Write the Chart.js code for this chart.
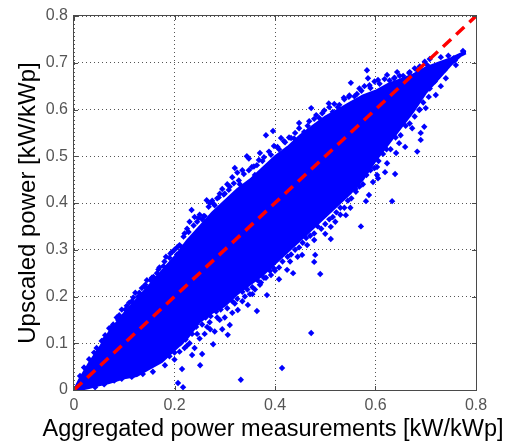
<!DOCTYPE html>
<html>
<head>
<meta charset="utf-8">
<script src="https://cdn.jsdelivr.net/npm/chart.js@4"></script>
<style>
  html, body { margin: 0; background: #fff; }
</style>
</head>
<body>
<canvas id="scatterChart" width="508" height="443"></canvas>
<script>
// ticks
const xTicks = [0, 0.2, 0.4, 0.6, 0.8];
const yTicks = [0, 0.1, 0.2, 0.3, 0.4, 0.5, 0.6, 0.7, 0.8];

// solid part of the cloud, edges
const coreX = [0, .01, .02, .03, .05, .07, .10, .125, .15, .175, .20, .225, .25, .275, .30, .325, .35, .375, .40, .425, .45, .475, .50, .525, .55, .575, .60, .625, .65, .675, .70, .725, .75, .77, .78];
const coreUpper = [0, .022, .04, .058, .09, .125, .165, .195, .225, .255, .285, .32, .35, .38, .405, .43, .45, .475, .50, .52, .545, .565, .585, .60, .615, .63, .64, .655, .665, .675, .69, .70, .71, .72, .725];
const coreLower = [0, 0, .002, .004, .01, .015, .025, .03, .045, .06, .085, .11, .145, .165, .18, .205, .225, .245, .27, .295, .32, .345, .37, .395, .42, .45, .49, .525, .56, .595, .635, .665, .695, .715, .72];

// separate points around the solid part
const upperX = [.012, .02, .03, .04, .045, .055, .062, .07, .078, .085, .09, .095, .105, .11, .118, .122, .13, .135, .14, .145,
  .152, .158, .165, .17, .178, .183, .19, .195, .2, .205, .21, .215, .22, .225, .23, .234, .24, .245, .25, .255,
  .26, .264, .27, .275, .28, .285, .29, .295, .30, .305, .31, .315, .32, .325, .33, .335, .344, .348, .354, .36,
  .364, .37, .375, .382, .392, .396, .405, .412, .42, .432, .44, .448, .458, .465, .472, .482, .494, .507, .515, .525,
  .537, .547, .551, .563, .572, .583, .585, .59, .605, .623, .637, .643, .655, .667, .683, .703, .73, .745, .756, .774];
const upperY = [.03, .048, .066, .08, .09, .105, .117, .132, .14, .155, .16, .172, .18, .187, .198, .208, .208, .218, .222, .235,
  .235, .242, .25, .262, .265, .285, .283, .295, .30, .29, .31, .305, .335, .345, .36, .385, .37, .36, .375, .365,
  .372, .406, .40, .405, .395, .41, .42, .43, .42, .44, .435, .455, .475, .465, .44, .47, .50, .495, .477, .46,
  .481, .507, .49, .545, .503, .554, .52, .539, .53, .539, .55, .571, .541, .565, .603, .588, .592, .613, .595, .605,
  .625, .627, .657, .633, .64, .684, .667, .646, .663, .674, .667, .68, .672, .678, .684, .695, .712, .715, .71, .725];

const lowerX = [.042, .06, .08, .095, .115, .137, .157, .177, .181, .19, .2, .207, .21, .215, .217, .22, .225, .23, .235, .24,
  .245, .25, .251, .255, .26, .265, .27, .271, .277, .28, .285, .29, .295, .30, .306, .31, .315, .32, .326, .332,
  .335, .34, .346, .35, .355, .36, .364, .37, .378, .384, .392, .40, .408, .414, .424, .424, .43, .436, .445, .454,
  .464, .472, .478, .48, .478, .49, .50, .511, .511, .52, .53, .541, .55, .561, .571, .581, .587, .595, .603, .603,
  .605, .619, .623, .633, .639, .641, .647, .659, .673, .683, .69, .69, .697, .687, .70, .706, .72, .73, .74, .76];
const lowerY = [.006, .012, .02, .024, .028, .034, .039, .07, .053, .072, .065, .015, .082, .045, .006, .09, .095, .10, .075, .09,
  .12, .11, .053, .077, .12, .135, .145, .13, .098, .125, .155, .15, .13, .155, .118, .139, .165, .185, .171, .022,
  .19, .20, .182, .205, .205, .215, .169, .225, .24, .203, .246, .255, .237, .047, .257, .30, .275, .25, .285, .289,
  .31, .122, .321, .289, .274, .248, .334, .323, .349, .36, .375, .374, .39, .424, .35, .404, .417, .445, .477, .46,
  .453, .466, .485, .404, .462, .507, .528, .52, .56, .51, .55, .535, .563, .599, .603, .627, .631, .65, .667, .695];

// rough fringe hugging both edges of the solid part
const fringeX = [.06, .075, .088, .102, .115, .128, .142, .155, .168, .18, .192, .205, .218, .228, .238, .248, .258, .268, .278, .288,
  .298, .308, .318, .328, .338, .348, .358, .368, .378, .388, .398, .408, .418, .428, .438, .448, .458, .468, .478, .488,
  .498, .508, .518, .528, .538, .548, .558, .568, .578, .588, .598, .608, .618, .628, .638, .648, .658, .668, .678, .688,
  .698, .708, .12, .135, .15, .165, .175, .19, .2, .212, .222, .235, .243, .255, .262, .272, .283, .292, .305, .315,
  .325, .335, .345, .355, .365, .372, .382, .39, .398, .408, .415, .425, .432, .44, .448, .455, .462, .47, .478, .485,
  .492, .50, .508, .515, .522, .53, .538, .545, .552, .56, .568, .575, .582, .59, .598, .606, .615, .622, .63, .64,
  .65, .66, .668, .678, .688, .695, .708, .718, .728, .738, .748, .758];
const fringeY = [.108, .135, .15, .172, .19, .2, .225, .24, .258, .275, .292, .305, .328, .338, .352, .368, .372, .392, .398, .412,
  .418, .428, .442, .448, .462, .47, .478, .492, .498, .51, .522, .515, .532, .54, .538, .56, .552, .575, .58, .582,
  .598, .605, .612, .61, .622, .63, .628, .645, .65, .652, .66, .655, .665, .662, .668, .672, .662, .68, .688, .692,
  .702, .708, .04, .05, .06, .07, .082, .095, .08, .10, .108, .12, .135, .14, .155, .158, .168, .172, .175, .19,
  .195, .21, .215, .22, .235, .23, .24, .255, .26, .262, .275, .285, .29, .30, .305, .315, .325, .33, .335, .35,
  .345, .355, .365, .37, .38, .39, .39, .405, .41, .43, .435, .44, .46, .47, .475, .49, .505, .515, .515, .54,
  .545, .565, .57, .585, .60, .615, .645, .66, .675, .685, .70, .705];

const lineEnds = [0, 0.8];

const frame = {
    id: 'frame',
    afterDraw(chart) {
        const c = chart.ctx, a = chart.chartArea;
        c.save();
        c.strokeStyle = '#4a4a4a';
        c.lineWidth = 1;
        c.strokeRect(a.left - 0.5, a.top - 0.5, a.width + 1, a.height + 1);
        chart.scales.x.ticks.forEach(t => {
            const p = Math.round(chart.scales.x.getPixelForValue(t.value)) + 0.5;
            c.beginPath();
            c.moveTo(p, a.bottom); c.lineTo(p, a.bottom - 4);
            c.moveTo(p, a.top); c.lineTo(p, a.top + 4);
            c.stroke();
        });
        chart.scales.y.ticks.forEach(t => {
            const p = Math.round(chart.scales.y.getPixelForValue(t.value)) + 0.5;
            c.beginPath();
            c.moveTo(a.left, p); c.lineTo(a.left + 4, p);
            c.moveTo(a.right, p); c.lineTo(a.right - 4, p);
            c.stroke();
        });
        // the scale title gets squeezed to the axis width, this one is wider than the axis
        c.fillStyle = '#000';
        c.font = '23.5px "Liberation Sans"';
        c.textAlign = 'center';
        c.textBaseline = 'middle';
        c.fillText('Aggregated power measurements [kW/kWp]', a.left + a.width / 2 - 2, a.bottom + 40);
        c.restore();
    }
};

const toPoints = (xs, ys) => xs.map((x, i) => ({ x: x, y: ys[i] }));

new Chart(document.getElementById('scatterChart').getContext('2d'), {
    type: 'scatter',
    data: {
        datasets: [
            {
                data: toPoints(coreX, coreUpper),
                showLine: true, borderColor: '#0000ff', borderWidth: 2, pointRadius: 0, tension: 0, order: 3
            },
            {
                data: toPoints(coreX, coreLower),
                showLine: true, borderColor: '#0000ff', borderWidth: 2, pointRadius: 0, tension: 0, order: 3,
                fill: '-1', backgroundColor: '#0000ff'
            },
            {
                data: toPoints(upperX, upperY).concat(toPoints(lowerX, lowerY), toPoints(fringeX, fringeY)),
                pointStyle: 'rectRot', pointRadius: 3.2, pointBorderWidth: 0,
                pointBackgroundColor: '#0000ff', order: 2
            },
            {
                data: toPoints(lineEnds, lineEnds),
                showLine: true, borderColor: '#ff0000', borderWidth: 3.5, borderDash: [11, 7],
                pointRadius: 0, order: 1
            }
        ]
    },
    options: {
        responsive: false,
        animation: false,
        layout: { padding: { top: 16, right: 32, bottom: 0, left: 0 } },
        plugins: { legend: { display: false }, tooltip: { enabled: false } },
        scales: {
            x: {
                min: 0, max: 0.8,
                afterFit(s) { s.height = 53; },
                afterBuildTicks(s) { s.ticks = xTicks.map(v => ({ value: v })); },
                grid: { color: '#555', drawTicks: false },
                border: { display: false, dash: [1, 3] },
                ticks: {
                    color: '#555', padding: 6, maxRotation: 0, autoSkip: false,
                    font: { family: 'Liberation Sans', size: 16 },
                    callback: v => String(v)
                }
            },
            y: {
                min: 0, max: 0.8,
                afterFit(s) { s.width = 74; },
                afterBuildTicks(s) { s.ticks = yTicks.map(v => ({ value: v })); },
                grid: { color: '#555', drawTicks: false },
                border: { display: false, dash: [1, 3] },
                ticks: {
                    color: '#555', padding: 6, autoSkip: false,
                    font: { family: 'Liberation Sans', size: 16 },
                    callback: v => String(v)
                },
                title: {
                    display: true, text: 'Upscaled power [kW/kWp]', color: '#000',
                    font: { family: 'Liberation Sans', size: 24 }, padding: { top: 14, bottom: 0 }
                }
            }
        }
    },
    plugins: [frame]
});
</script>
</body>
</html>
